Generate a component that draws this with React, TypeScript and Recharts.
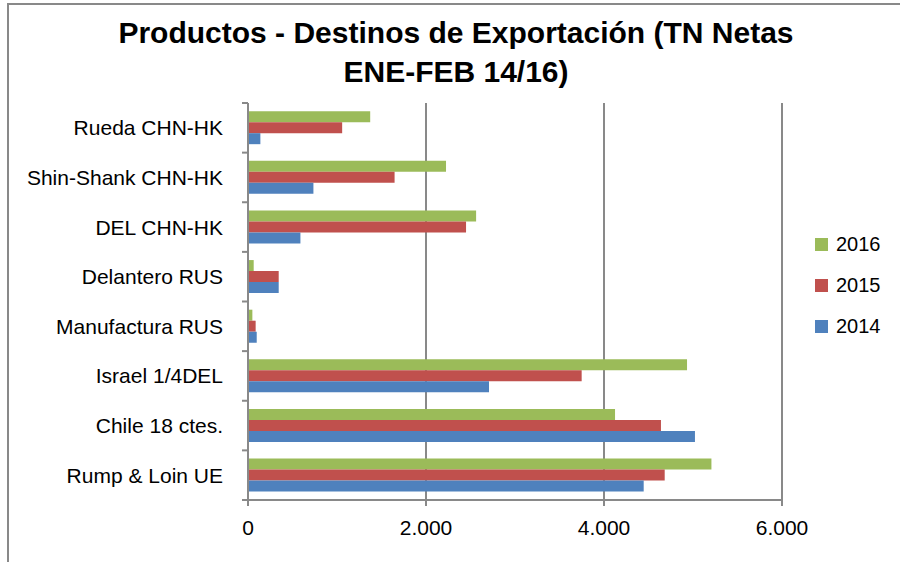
import React from "react";
import { BarChart, Bar, XAxis, YAxis, CartesianGrid } from "recharts";

const categories = [
  "Rueda CHN-HK",
  "Shin-Shank CHN-HK",
  "DEL CHN-HK",
  "Delantero RUS",
  "Manufactura RUS",
  "Israel 1/4DEL",
  "Chile 18 ctes.",
  "Rump & Loin UE",
];
const values2014 = [139, 735, 589, 345, 98, 2708, 5022, 4446];
const values2015 = [1058, 1647, 2450, 345, 86, 3749, 4640, 4682];
const values2016 = [1373, 2225, 2563, 64, 49, 4933, 4124, 5207];
const xTicks = [0, 2000, 4000, 6000];
const titleLines = ["Productos - Destinos de Exportación (TN Netas", "ENE-FEB 14/16)"];

const series = [
  { key: "y2016", name: "2016", color: "#9BBB59", values: values2016 },
  { key: "y2015", name: "2015", color: "#C0504D", values: values2015 },
  { key: "y2014", name: "2014", color: "#4F81BD", values: values2014 },
];

const data = categories.map((c, i) => ({
  cat: c,
  y2014: values2014[i],
  y2015: values2015[i],
  y2016: values2016[i],
}));

const FONT = "'Liberation Sans', Arial, sans-serif";
const AXIS = "#898989";
const N = categories.length;
const PLOT_TOP = 103;
const PLOT_BOTTOM = 500;
const BAND = (PLOT_BOTTOM - PLOT_TOP) / N;

const fmt = (v: number) => String(v).replace(/\B(?=(\d{3})+(?!\d))/g, ".");

const YTick = (props: any) => {
  const { x, y, payload, index } = props;
  const off = payload && payload.offset ? payload.offset : BAND / 2;
  return (
    <g>
      <line x1={x - 6} x2={x} y1={y - off} y2={y - off} stroke={AXIS} strokeWidth={2} />
      {index === N - 1 && (
        <line x1={x - 6} x2={x} y1={y + off} y2={y + off} stroke={AXIS} strokeWidth={2} />
      )}
      <text
        x={x - 25}
        y={y}
        textAnchor="end"
        dominantBaseline="central"
        fontFamily={FONT}
        fontSize={21}
        fill="#000"
      >
        {payload.value}
      </text>
    </g>
  );
};

export default function App() {
  return (
    <div
      style={{
        position: "fixed",
        left: 0,
        top: 0,
        width: 900,
        height: 562,
        overflow: "hidden",
        background: "#fff",
      }}
    >
      <div
        style={{
          position: "absolute",
          left: 7,
          top: 3,
          width: 1000,
          height: 1000,
          border: `2px solid ${AXIS}`,
        }}
      />
      <div
        style={{
          position: "absolute",
          left: 6,
          top: 13,
          width: 900,
          textAlign: "center",
          fontFamily: FONT,
          fontWeight: "bold",
          fontSize: 30,
          lineHeight: "39px",
          color: "#000",
        }}
      >
        {titleLines.map((t) => (
          <div key={t}>{t}</div>
        ))}
      </div>
      <div style={{ position: "absolute", left: 0, top: 0 }}>
        <BarChart
          width={900}
          height={562}
          data={data}
          layout="vertical"
          margin={{ top: PLOT_TOP, right: 118, bottom: 22, left: 0 }}
          barCategoryGap="16.5%"
          barGap={0}
        >
          <CartesianGrid horizontal={false} stroke={AXIS} strokeWidth={2} />
          <XAxis
            type="number"
            domain={[0, 6000]}
            ticks={xTicks}
            tickFormatter={fmt}
            height={40}
            tickSize={6}
            tickMargin={14}
            stroke={AXIS}
            strokeWidth={2}
            tick={{ fontFamily: FONT, fontSize: 21, fill: "#000" }}
            interval={0}
          />
          <YAxis
            type="category"
            dataKey="cat"
            width={248}
            tickSize={0}
            tickMargin={0}
            tickLine={false}
            axisLine={{ stroke: AXIS, strokeWidth: 2 }}
            tick={<YTick />}
            interval={0}
          />
          {series.map((s) => (
            <Bar
              key={s.key}
              dataKey={s.key}
              name={s.name}
              fill={s.color}
              isAnimationActive={false}
            />
          ))}
        </BarChart>
      </div>
      {series.map((s, i) => (
        <div
          key={s.key}
          style={{
            position: "absolute",
            left: 815,
            top: 244 + i * 41 - 12,
            height: 24,
            display: "flex",
            alignItems: "center",
            fontFamily: FONT,
            fontSize: 20,
            color: "#000",
          }}
        >
          <span
            style={{
              display: "inline-block",
              width: 13,
              height: 13,
              background: s.color,
              marginRight: 8,
            }}
          />
          {s.name}
        </div>
      ))}
    </div>
  );
}
